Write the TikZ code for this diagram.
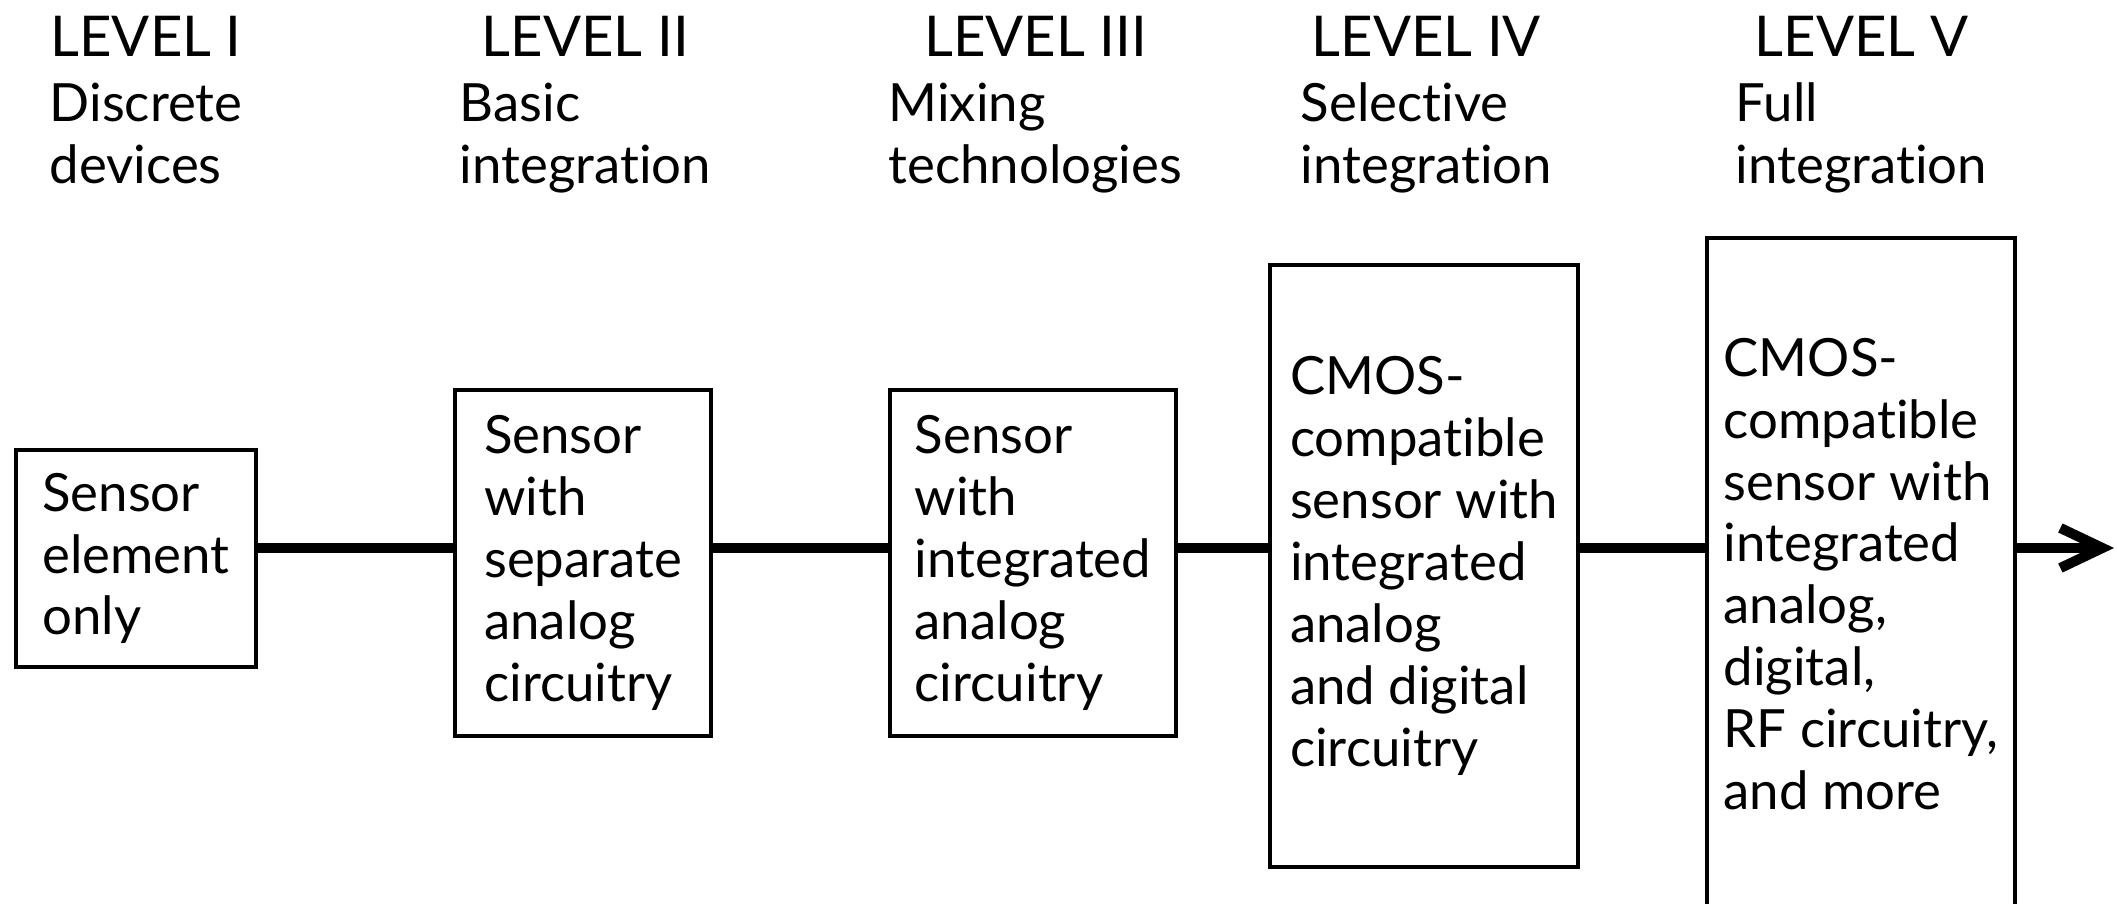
\documentclass[tikz,border=0pt]{standalone}
\usepackage{fontspec}
\setmainfont{Lato}[Ligatures=NoCommon]
\usetikzlibrary{positioning,arrows.meta}

\tikzset{
  stage/.style={draw,line width=1.3pt,inner sep=0pt,
    align=left,font=\fontsize{15}{17.6}\selectfont},
  levtitle/.style={font=\fontsize{16}{19}\selectfont,inner sep=0pt},
  levsub/.style={font=\fontsize{15}{17.6}\selectfont,align=left,inner sep=0pt,anchor=north west},
  flow/.style={line width=2.85pt}
}

\begin{document}
\begin{tikzpicture}
  \useasboundingbox (0,0) rectangle (21.17,9.04);

  % level headings
  \node[levsub] (s1) at (0.49,8.22)  {Discrete\\devices};
  \node[levsub] (s2) at (4.59,8.22)  {Basic\\integration};
  \node[levsub] (s3) at (8.88,8.22)  {Mixing\\technologies};
  \node[levsub] (s4) at (13.00,8.22) {Selective\\integration};
  \node[levsub] (s5) at (17.35,8.22) {Full\\integration};
  \node[levtitle,above=0.25cm of s1] (t1) {LEVEL I};
  \node[levtitle,above=0.25cm of s2] (t2) {LEVEL II};
  \node[levtitle,above=0.25cm of s3] (t3) {LEVEL III};
  \node[levtitle,above=0.25cm of s4] (t4) {LEVEL IV};
  \node[levtitle,above=0.25cm of s5] (t5) {LEVEL V};

  % stages
  \node[stage,minimum width=2.40cm,minimum height=2.17cm] (b1) at (1.36,3.455)
    {Sensor\\element\\only};
  \node[stage,minimum width=2.56cm,minimum height=3.46cm] (b2) at (5.83,3.41)
    {Sensor\\with\\separate\\analog\\circuitry};
  \node[stage,minimum width=2.86cm,minimum height=3.46cm] (b3) at (10.33,3.41)
    {Sensor\\with\\integrated\\analog\\circuitry};
  \node[stage,minimum width=3.08cm,minimum height=6.02cm] (b4) at (14.24,3.38)
    {CMOS-\\compatible\\sensor with\\integrated\\analog\\and digital\\circuitry};
  \node[stage,minimum width=3.08cm,minimum height=6.72cm] (b5) at (18.61,3.30)
    {CMOS-\\compatible\\sensor with\\integrated\\analog,\\digital,\\RF circuitry,\\and more};

  % flow line
  \coordinate (axis) at (0,3.56);
  \coordinate (tip) at (21.14,3.56);
  \draw[flow] (b1.east |- axis) -- (b2.west |- axis);
  \draw[flow] (b2.east |- axis) -- (b3.west |- axis);
  \draw[flow] (b3.east |- axis) -- (b4.west |- axis);
  \draw[flow] (b4.east |- axis) -- (b5.west |- axis);
  \draw[flow,-{Straight Barb[length=0.42cm,width=0.40cm]}] (b5.east |- axis) -- (tip);
\end{tikzpicture}
\end{document}
